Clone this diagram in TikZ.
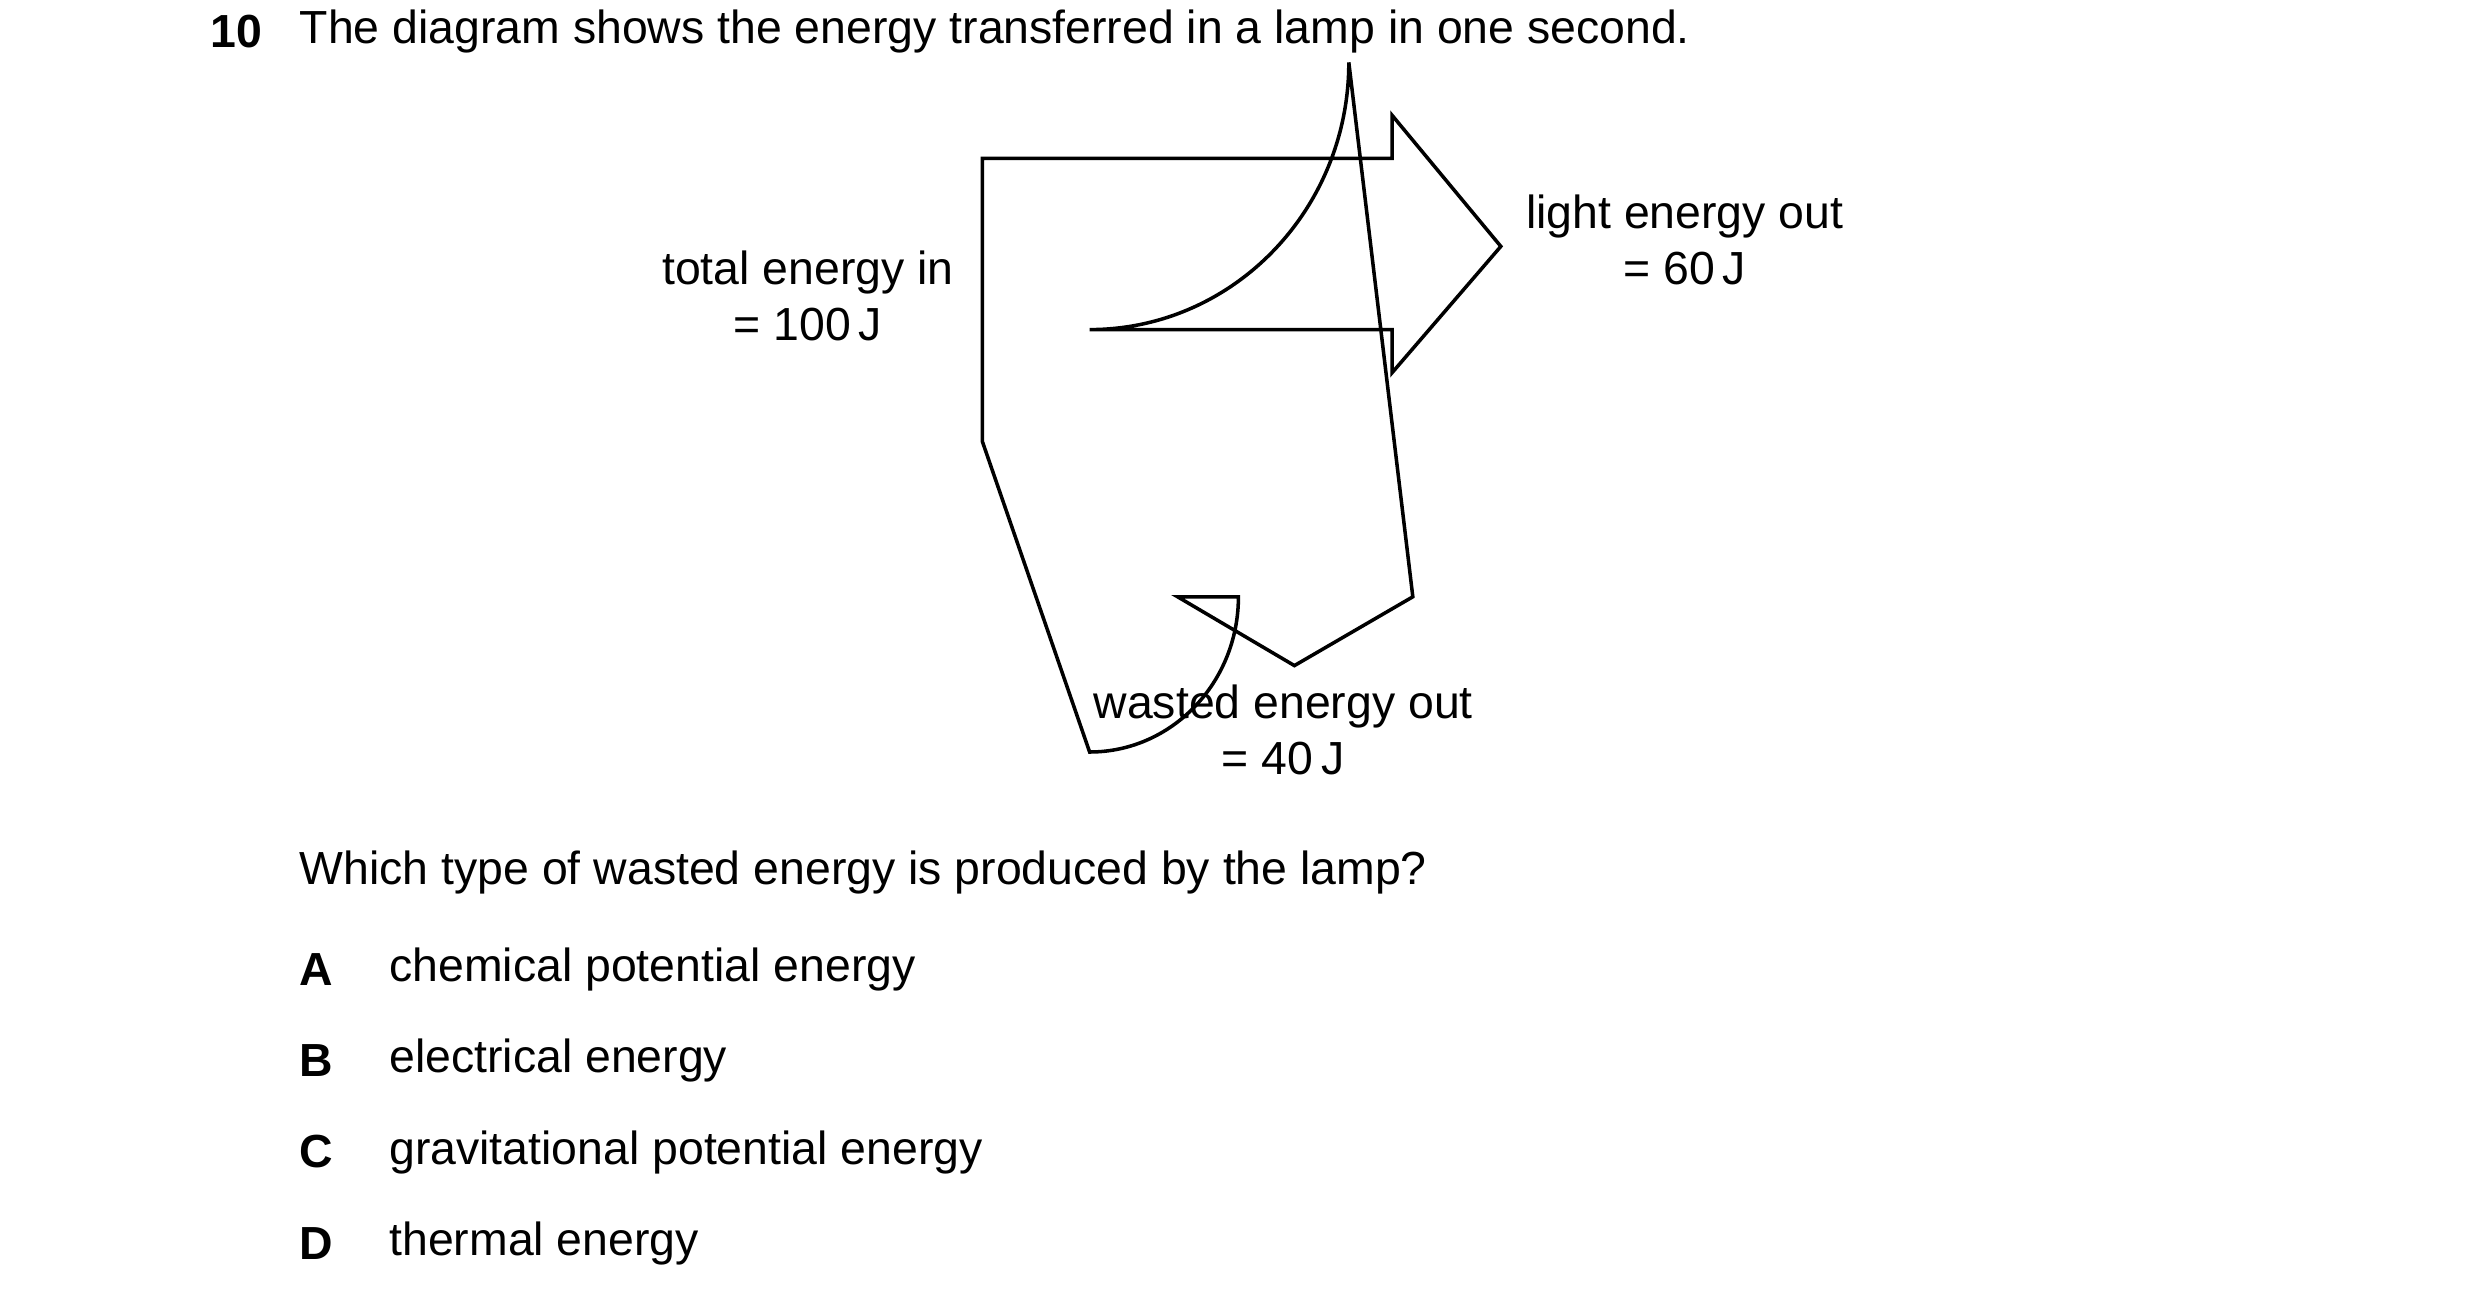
\documentclass[tikz,border=0pt]{standalone}
\usepackage{fontspec}
\setmainfont{Liberation Sans}
\begin{document}
\begin{tikzpicture}[x=0.5pt,y=-0.5pt,
  t/.style={font=\fontsize{14.5}{17.5}\selectfont, inner sep=0pt},
  c/.style={t, align=center},
  l/.style={t, anchor=west}]
\useasboundingbox (0,0) rectangle (1550,808);
\draw[line width=1.1pt, line join=miter]
 (614,99) -- (870,99) -- (870,72) -- (938,154) -- (870,233) -- (870,206) -- (681,206)
 arc[start angle=90, end angle=0, x radius=162, y radius=167]
 -- (883,373) -- (809,416) -- (736,373) -- (774,373)
 arc[start angle=0, end angle=90, x radius=93, y radius=97]
 -- (614,276) -- cycle;
\node[l, font=\fontsize{14.5}{17.5}\selectfont\bfseries] (num) at (131,20) {10};
\node[l] (title) at (187,20) {The diagram shows the energy transferred in a lamp in one second.};
\node[c] (in) at (505,185) {total energy in\\= 100\,J};
\node[c] (light) at (1053,150) {light energy out\\= 60\,J};
\node[c] (waste) at (802,456) {wasted energy out\\= 40\,J};
\node[l] (q) at (187,545) {Which type of wasted energy is produced by the lamp?};
\foreach \k/\txt/\y in {A/chemical potential energy/606, B/electrical energy/663, C/gravitational potential energy/720, D/thermal energy/777}{
  \node[l, font=\fontsize{14.5}{17.5}\selectfont\bfseries] (k\k) at (187,\y) {\k};
  \node[l] (o\k) at (243,\y) {\txt};
}
\end{tikzpicture}
\end{document}
